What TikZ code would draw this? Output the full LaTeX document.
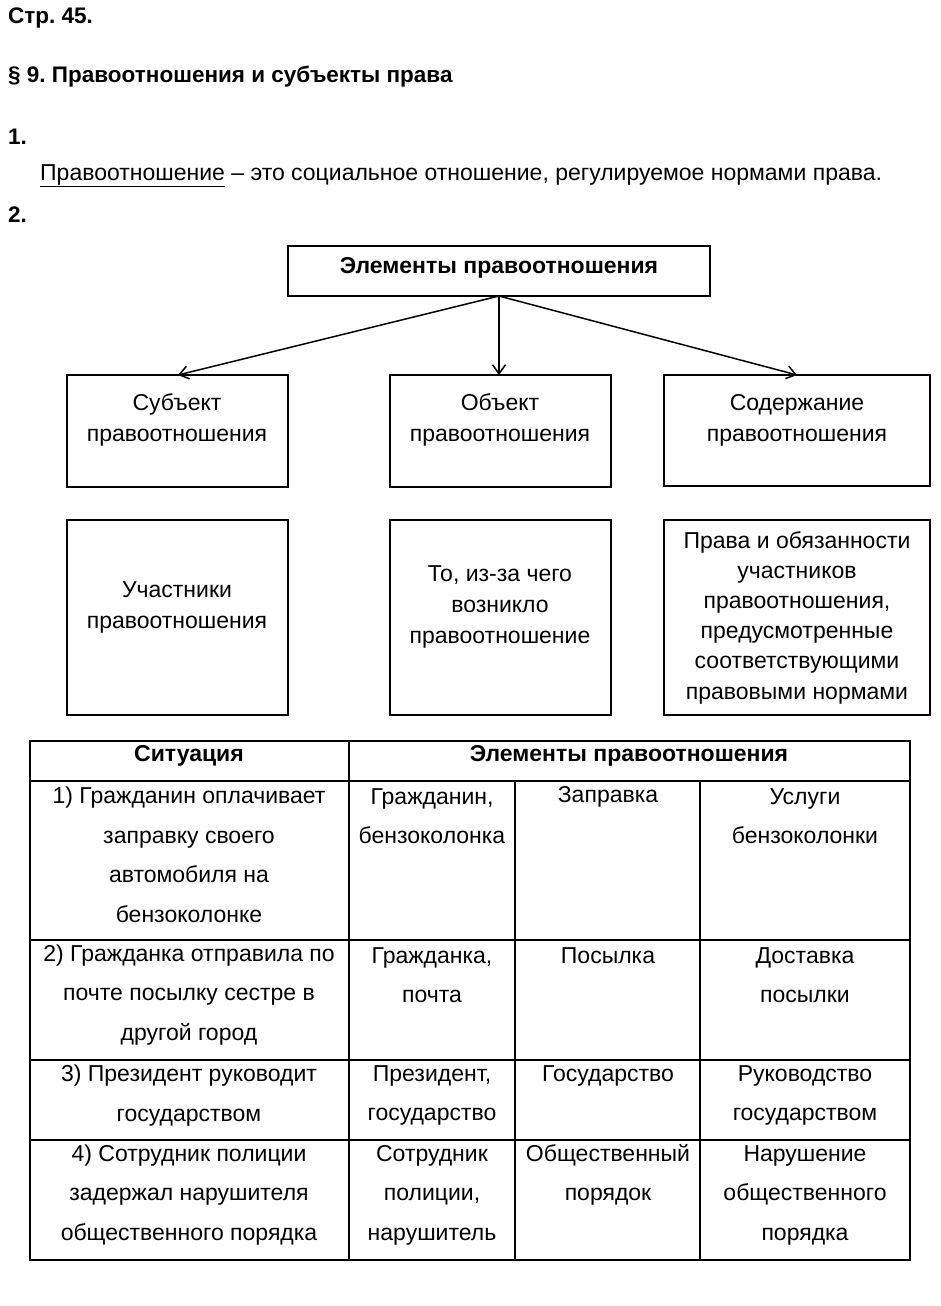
\documentclass[tikz,border=0pt]{standalone}
\usepackage{fontspec}
\setmainfont{Liberation Sans}
\usetikzlibrary{arrows.meta}
\frenchspacing
\tikzset{
  txt/.style={inner sep=0pt, align=center, font=\fontsize{23}{31}\selectfont},
  ttxt/.style={inner sep=0pt, align=center, font=\fontsize{23}{39.5}\selectfont},
  hdr/.style={inner sep=0pt, anchor=west, font=\fontsize{22.5}{25}\selectfont\bfseries},
  boxx/.style={draw, line width=1.5pt},
  arr/.style={line width=1.5pt, -{Straight Barb[length=9pt,width=13pt,line width=1.5pt]}},
  grid/.style={line width=1.3pt}
}
\begin{document}
\begin{tikzpicture}[x=1pt,y=-1pt]
\useasboundingbox[fill=white] (0,0) rectangle (941,1306);
% headings
\node[hdr] (p) at (8,18) {Стр. 45.};
\node[hdr] (sec) at (8,77) {§ 9. Правоотношения и субъекты права};
\node[hdr] (n1) at (8,137) {1.};
\node[inner sep=0pt, anchor=west, font=\fontsize{23}{25}\selectfont] (def) at (40,176) {\underline{Правоотношение} – это социальное отношение, регулируемое нормами права.};
\node[hdr] (n2) at (8,215) {2.};
% scheme
\draw[boxx] (288,246) rectangle (710,296);
\node[txt, font=\fontsize{23}{31}\selectfont\bfseries] (top) at (499,268) {Элементы правоотношения};
\coordinate (topb) at (499,296);
\draw[boxx] (67,375) rectangle (288,487);
\draw[boxx] (390,375) rectangle (611,487);
\draw[boxx] (664,375) rectangle (930,486);
\coordinate (t1) at (178,375);
\coordinate (t2) at (499,375);
\coordinate (t3) at (797,375);
\draw[arr] (topb) -- (t1);
\draw[arr] (topb) -- (t2);
\draw[arr] (topb) -- (t3);
\node[txt] (s1) at (177,420) {Субъект\\правоотношения};
\node[txt] (s2) at (500,420) {Объект\\правоотношения};
\node[txt] (s3) at (797,420) {Содержание\\правоотношения};
\draw[boxx] (67,520) rectangle (288,715);
\draw[boxx] (390,520) rectangle (611,715);
\draw[boxx] (664,520) rectangle (930,715);
\node[txt] (d1) at (177,607) {Участники\\правоотношения};
\node[txt] (d2) at (500,607) {То, из-за чего\\возникло\\правоотношение};
\node[txt, font=\fontsize{23}{30.2}\selectfont] (d3) at (797,617.5) {Права и обязанности\\участников\\правоотношения,\\предусмотренные\\соответствующими\\правовыми нормами};
% table
\draw[grid] (30,741) rectangle (910,1260);
\draw[grid] (30,781) -- (910,781);
\draw[grid] (30,940) -- (910,940);
\draw[grid] (30,1060) -- (910,1060);
\draw[grid] (30,1140) -- (910,1140);
\draw[grid] (349,741) -- (349,1260);
\draw[grid] (515,781) -- (515,1260);
\draw[grid] (700,781) -- (700,1260);
\node[txt, font=\fontsize{23}{31}\selectfont\bfseries] (h1) at (189,756) {Ситуация};
\node[txt, font=\fontsize{23}{31}\selectfont\bfseries] (h2) at (629,756) {Элементы правоотношения};
% row 1
\node[ttxt] (r1a) at (189,855) {1) Гражданин оплачивает\\заправку своего\\автомобиля на\\бензоколонке};
\node[ttxt] (r1b) at (432,816) {Гражданин,\\бензоколонка};
\node[ttxt] (r1c) at (608,797) {Заправка};
\node[ttxt] (r1d) at (805,816) {Услуги\\бензоколонки};
% row 2
\node[ttxt] (r2a) at (189,995) {2) Гражданка отправила по\\почте посылку сестре в\\другой город};
\node[ttxt] (r2b) at (432,975) {Гражданка,\\почта};
\node[ttxt] (r2c) at (608,956) {Посылка};
\node[ttxt] (r2d) at (805,975) {Доставка\\посылки};
% row 3
\node[ttxt] (r3a) at (189,1095.5) {3) Президент руководит\\государством};
\node[ttxt] (r3b) at (432,1095.5) {Президент,\\государство};
\node[ttxt] (r3c) at (608,1076) {Государство};
\node[ttxt] (r3d) at (805,1095.5) {Руководство\\государством};
% row 4
\node[ttxt] (r4a) at (189,1195) {4) Сотрудник полиции\\задержал нарушителя\\общественного порядка};
\node[ttxt] (r4b) at (432,1195) {Сотрудник\\полиции,\\нарушитель};
\node[ttxt] (r4c) at (608,1175) {Общественный\\порядок};
\node[ttxt] (r4d) at (805,1195) {Нарушение\\общественного\\порядка};
\end{tikzpicture}
\end{document}
